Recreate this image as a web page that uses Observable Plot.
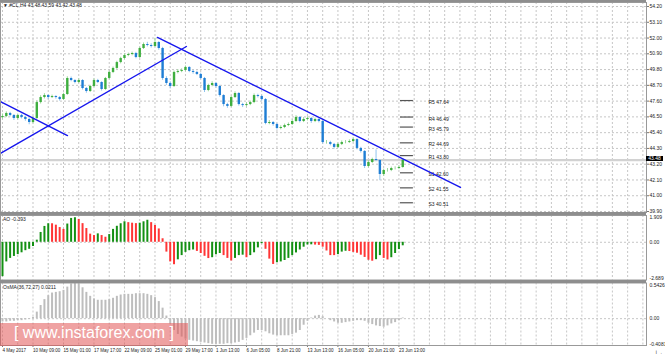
<!DOCTYPE html>
<html><head><meta charset="utf-8">
<script src="https://cdn.jsdelivr.net/npm/d3@7"></script>
<script src="https://cdn.jsdelivr.net/npm/@observablehq/plot@0.6"></script>
<style>
html,body{margin:0;padding:0;background:#fff;}
#wrap{position:relative;width:665px;height:356px;overflow:hidden;font-family:"Liberation Sans",Arial,sans-serif;}
.panel{position:absolute;left:0;}
.panel svg{display:block;overflow:visible;}
.sep{position:absolute;left:0;width:646px;background:#8e8e8e;}
.lbl{position:absolute;font-size:5px;line-height:6px;color:#222;white-space:nowrap;}
#wm{position:absolute;left:0;top:323px;width:188px;height:23px;background:rgba(226,86,86,0.55);}
#wmt{position:absolute;left:0;top:321px;width:188px;text-align:center;font-size:16px;line-height:24px;color:#fff;white-space:pre;}
#pbox{position:absolute;left:646px;width:17px;height:5px;background:#000;color:#fff;font-size:5px;line-height:5px;text-align:center;}
</style></head><body>
<div id="wrap"></div>
<script>
// ---------- data (H4 bars, sampled every 2 bars) ----------
const closes = [46.53,46.74,46.60,46.39,46.60,46.46,46.32,46.11,46.39,47.50,
47.85,47.99,47.85,47.92,47.85,47.71,48.06,49.18,49.04,48.90,
49.04,48.48,48.27,48.62,49.04,48.90,48.41,49.18,49.60,49.88,
50.29,50.57,50.78,50.85,50.92,50.64,51.27,51.55,51.48,51.41,
51.69,51.27,49.18,48.83,48.62,49.60,49.67,49.74,49.95,49.67,
49.60,49.46,49.18,48.34,48.69,48.83,48.62,47.99,47.36,47.23,
47.85,48.13,47.36,47.29,47.36,47.50,47.99,47.92,47.71,46.04,
46.11,45.97,45.69,45.76,45.90,45.97,46.18,46.46,46.18,46.32,
46.39,46.18,46.32,46.18,44.71,44.71,44.58,44.37,44.58,44.71,
44.71,44.78,44.92,44.30,44.09,43.04,43.32,43.53,43.46,42.48,
42.76,42.76,42.90,42.90,42.97,43.48];
const firstOpen = 46.45;
const highs = [46.70,46.85,46.82,46.66,46.70,46.68,46.55,46.40,46.50,47.62,
47.98,48.12,48.05,48.02,47.98,47.92,48.15,49.30,49.28,49.10,
49.15,49.10,48.55,48.70,49.15,49.12,48.95,49.25,49.70,49.98,
50.38,50.66,50.90,50.95,51.02,51.00,51.36,51.66,51.70,51.60,
51.98,51.75,51.35,49.30,48.95,49.70,49.80,49.85,50.05,50.00,
49.75,49.68,49.55,49.25,48.78,48.95,48.90,48.70,48.05,47.45,
47.95,48.25,48.20,47.45,47.48,47.60,48.10,48.08,48.00,47.78,
46.25,46.18,46.05,45.88,46.00,46.08,46.30,46.58,46.52,46.45,
46.50,46.45,46.42,46.40,46.25,44.85,44.80,44.65,44.68,44.82,
44.85,44.90,45.05,44.98,44.38,44.15,43.45,43.62,44.20,43.52,
42.85,42.90,43.00,43.02,43.10,43.59];
const lows = [46.35,46.45,46.50,46.25,46.30,46.36,46.20,45.95,46.02,46.30,
47.40,47.75,47.72,47.78,47.74,47.60,47.64,48.00,48.95,48.80,
48.82,48.38,48.15,48.20,48.55,48.82,48.30,48.35,49.10,49.52,
49.80,50.20,50.50,50.70,50.76,50.55,50.58,51.20,51.38,51.30,
51.35,51.15,49.05,48.70,48.45,48.55,49.50,49.58,49.66,49.58,
49.48,49.38,49.10,48.20,48.25,48.60,48.50,47.88,47.20,47.10,
47.15,47.78,47.25,47.15,47.20,47.28,47.42,47.82,47.60,45.95,
45.95,45.85,45.58,45.60,45.68,45.82,45.90,46.10,46.08,46.10,
46.22,46.05,46.10,46.08,44.60,44.60,44.48,44.25,44.30,44.50,
44.62,44.65,44.70,44.20,43.98,42.90,42.95,43.25,43.38,42.05,
42.35,42.65,42.68,42.80,42.82,42.92];
const ao = [-2.45,-1.40,-1.15,-1.01,-0.88,-0.75,-0.60,-0.50,-0.30,0.15,
0.70,1.13,1.32,1.32,1.22,1.05,0.92,1.30,1.70,1.75,
1.63,1.33,0.98,0.58,0.48,0.60,0.48,0.36,0.55,0.92,
1.14,1.32,1.46,1.40,1.36,1.33,1.36,1.46,1.57,1.40,
1.20,0.95,0.25,-0.70,-1.40,-1.60,-1.25,-0.95,-0.72,-0.60,
-0.55,-0.65,-0.80,-1.00,-1.16,-1.10,-0.89,-0.80,-0.95,-1.15,
-1.33,-1.15,-0.95,-0.92,-1.10,-0.95,-0.75,-0.40,-0.10,-0.50,
-1.20,-1.58,-1.46,-1.40,-1.30,-1.15,-0.95,-0.76,-0.55,-0.35,
-0.19,-0.18,-0.20,-0.22,-0.35,-0.62,-0.95,-0.95,-0.88,-0.70,
-0.64,-0.66,-0.72,-0.78,-0.92,-1.08,-1.28,-1.35,-1.24,-0.95,
-1.15,-1.26,-1.10,-0.80,-0.52,-0.25];
const osma = [-0.05,-0.05,-0.04,-0.04,-0.03,-0.03,-0.02,-0.01,0.02,0.10,
0.20,0.29,0.35,0.39,0.40,0.41,0.43,0.48,0.53,0.54,
0.53,0.47,0.40,0.34,0.30,0.28,0.28,0.28,0.29,0.31,
0.34,0.36,0.37,0.37,0.37,0.38,0.38,0.38,0.37,0.35,
0.32,0.26,0.16,0.04,-0.08,-0.18,-0.24,-0.28,-0.31,-0.33,
-0.34,-0.35,-0.36,-0.37,-0.38,-0.39,-0.39,-0.39,-0.39,-0.38,
-0.38,-0.37,-0.36,-0.33,-0.30,-0.26,-0.22,-0.18,-0.18,-0.20,
-0.23,-0.25,-0.26,-0.26,-0.26,-0.26,-0.24,-0.22,-0.18,-0.10,
-0.04,0.01,0.04,0.05,0.03,0.00,-0.03,-0.05,-0.07,-0.07,
-0.06,-0.05,-0.04,-0.03,-0.03,-0.04,-0.07,-0.09,-0.11,-0.12,
-0.13,-0.11,-0.08,-0.06,-0.03,0.01];
const priceTicks = [54.20,53.10,52.00,50.90,49.80,48.70,47.60,46.50,45.40,44.30,43.20,42.10,41.00,39.90];
const aoTicks = [1.909, 0, -2.689];
const osmaTicks = [0.5426, 0, -0.4081];
const dateTicks = [0,16,32,48,64,80,96,112,128,144,160,176,192,208];
const dateLabels = ["4 May 2017","10 May 09:00","15 May 01:00","17 May 17:00","22 May 09:00","25 May 01:00","29 May 17:00","1 Jun 13:00","6 Jun 05:00","8 Jun 21:00","13 Jun 13:00","16 Jun 05:00","20 Jun 21:00","23 Jun 13:00"];
const pivotNames = ["R5","R4","R3","R2","R1","S1","S2","S3"];
const pivotValues = [47.64,46.49,45.79,44.69,43.80,42.60,41.55,40.51];
const pivotFrom = 208.8, pivotTo = 215.6, pivotLabelAt = 223.5;
const trendStartIdx = [-1.05, -1.05, 81.3];
const trendStartPrice = [47.57, 43.95, 52.04];
const trendEndIdx = [34.1, 96.5, 240.3];
const trendEndPrice = [45.20, 51.41, 41.58];
const lastPrice = 43.48;
const headerText = "\u25BC  #CL,H4  43.48 43.59 43.42 43.48";
const aoText = "AO -0.393";
const osmaText = "OsMA(36,72,27) 0.0211";

// ---------- styling ----------
const FONT = "Liberation Sans, Arial, sans-serif";
const GRID = "#c6c6c6", BULL = "#3fae3f", BEAR = "#1f7ed4", TREND = "#1616ee";
const BULL_W = "#9bd89b", BEAR_W = "#8fc3ee";
const AO_UP = "#139013", AO_DN = "#ff3535", OSMA_C = "#bdbdbd";
const X_DOMAIN = [-1.05, 337.9];
const gridIdx = d3.range(0, 338, 8);

const candles = closes.map((c, k) => ({i: 2 * k, o: k ? closes[k - 1] : firstOpen, c, h: highs[k], l: lows[k]}));
const aoData = ao.map((v, k) => ({i: 2 * k, v, up: k === 0 || v > ao[k - 1]}));
const osmaData = osma.map((v, k) => ({i: 2 * k, v}));
const pivots = pivotNames.map((n, j) => ({n, v: pivotValues[j]}));
const trends = trendStartIdx.map((_, j) => [
  {i: trendStartIdx[j], p: trendStartPrice[j]},
  {i: trendEndIdx[j], p: trendEndPrice[j]}
]);
const baseStyle = {fontFamily: FONT, fontSize: "5px", color: "#222", background: "transparent"};
const xOpt = {domain: X_DOMAIN, axis: null};
const sideLabel = (val, anchor, fmt) => Plot.text([val], {y: d => d, frameAnchor: "right", dx: 3, textAnchor: "start", lineAnchor: anchor, text: d => fmt(d), fill: "#222"});

const main = Plot.plot({
  width: 665, height: 214, marginLeft: 0, marginRight: 19, marginTop: 2, marginBottom: 2,
  style: baseStyle, x: xOpt,
  y: {domain: [39.831, 54.479], axis: null},
  marks: [
    Plot.ruleY(priceTicks, {stroke: GRID, strokeDasharray: "2,2"}),
    Plot.ruleX(gridIdx, {stroke: GRID, strokeDasharray: "2,2"}),
    Plot.ruleY([lastPrice], {stroke: "#d2d2d2", strokeWidth: 2.2}),
    Plot.ruleX(candles, {x: "i", y1: "l", y2: "h", stroke: d => d.c >= d.o ? BULL_W : BEAR_W, strokeWidth: 1}),
    Plot.ruleX(candles, {x: "i", y1: "o", y2: "c", stroke: d => d.c >= d.o ? BULL : BEAR, strokeWidth: 2.4}),
    Plot.ruleY(pivots, {y: "v", x1: pivotFrom, x2: pivotTo, stroke: "#555", strokeWidth: 1.2}),
    Plot.text(pivots, {x: pivotLabelAt, y: "v", dy: 2, text: d => `${d.n} ${d.v.toFixed(2)}`, textAnchor: "start", fill: "#222"}),
    ...trends.map(t => Plot.line(t, {x: "i", y: "p", stroke: TREND, strokeWidth: 1.4})),
    Plot.axisY({ticks: priceTicks, anchor: "right", tickSize: 2, tickPadding: 1, tickFormat: d => d.toFixed(2), stroke: "#777", fill: "#222"}),
    Plot.frame({stroke: "#999"})
  ]
});

const aoPlot = Plot.plot({
  width: 665, height: 70, marginLeft: 0, marginRight: 19, marginTop: 3, marginBottom: 2.5,
  style: baseStyle, x: xOpt,
  y: {domain: [aoTicks[2], aoTicks[0]], axis: null},
  marks: [
    Plot.ruleX(gridIdx, {stroke: GRID, strokeDasharray: "2,2"}),
    Plot.ruleY([0], {stroke: GRID, strokeDasharray: "2,2"}),
    Plot.ruleX(aoData, {x: "i", y1: 0, y2: "v", stroke: d => d.up ? AO_UP : AO_DN, strokeWidth: 2}),
    sideLabel(aoTicks[0], "top", d => d.toFixed(3)),
    sideLabel(aoTicks[1], "middle", d => d.toFixed(2)),
    sideLabel(aoTicks[2], "bottom", d => d.toFixed(3)),
    Plot.frame({stroke: "#999"})
  ]
});

const osmaPlot = Plot.plot({
  width: 665, height: 76, marginLeft: 0, marginRight: 19, marginTop: 2.5, marginBottom: 11,
  style: baseStyle, x: xOpt,
  y: {domain: [osmaTicks[2], osmaTicks[0]], axis: null},
  marks: [
    Plot.ruleX(gridIdx, {stroke: GRID, strokeDasharray: "2,2"}),
    Plot.ruleY([0], {stroke: GRID, strokeDasharray: "2,2"}),
    Plot.ruleX(osmaData, {x: "i", y1: 0, y2: "v", stroke: OSMA_C, strokeWidth: 2}),
    sideLabel(osmaTicks[0], "top", d => d.toFixed(4)),
    sideLabel(osmaTicks[1], "middle", d => d.toFixed(2)),
    sideLabel(osmaTicks[2], "bottom", d => d.toFixed(4)),
    Plot.axisX({ticks: dateTicks, anchor: "bottom", tickSize: 2, tickPadding: 1, textAnchor: "start", fontSize: 4.5,
      tickFormat: d => dateLabels[dateTicks.indexOf(d)], stroke: "#777", fill: "#222"}),
    Plot.frame({stroke: "#999"})
  ]
});

const wrap = document.getElementById("wrap");
function addPanel(node, top) {
  const d = document.createElement("div");
  d.className = "panel"; d.style.top = top + "px";
  d.appendChild(node); wrap.appendChild(d);
}
addPanel(main, 0);
addPanel(aoPlot, 212);
addPanel(osmaPlot, 280);

function addDiv(cls, css, text) {
  const d = document.createElement("div");
  d.className = cls; Object.assign(d.style, css);
  if (text !== undefined) d.textContent = text;
  wrap.appendChild(d); return d;
}
addDiv("sep", {top: "0px", height: "2px"});
addDiv("sep", {top: "212px", height: "3px"});
addDiv("sep", {top: "279.5px", height: "3px"});
addDiv("lbl", {left: "3px", top: "2px"}, headerText);
addDiv("lbl", {left: "3px", top: "216px"}, aoText);
addDiv("lbl", {left: "3px", top: "283.5px"}, osmaText);
const py = main.scale("y").apply(lastPrice);
const pb = addDiv("", {top: (py - 3.8) + "px"}, lastPrice.toFixed(2));
pb.id = "pbox";
const wm = addDiv("", {}); wm.id = "wm";
const wmt = addDiv("", {}, "[ www.instaforex.com ]"); wmt.id = "wmt";
</script></body></html>
